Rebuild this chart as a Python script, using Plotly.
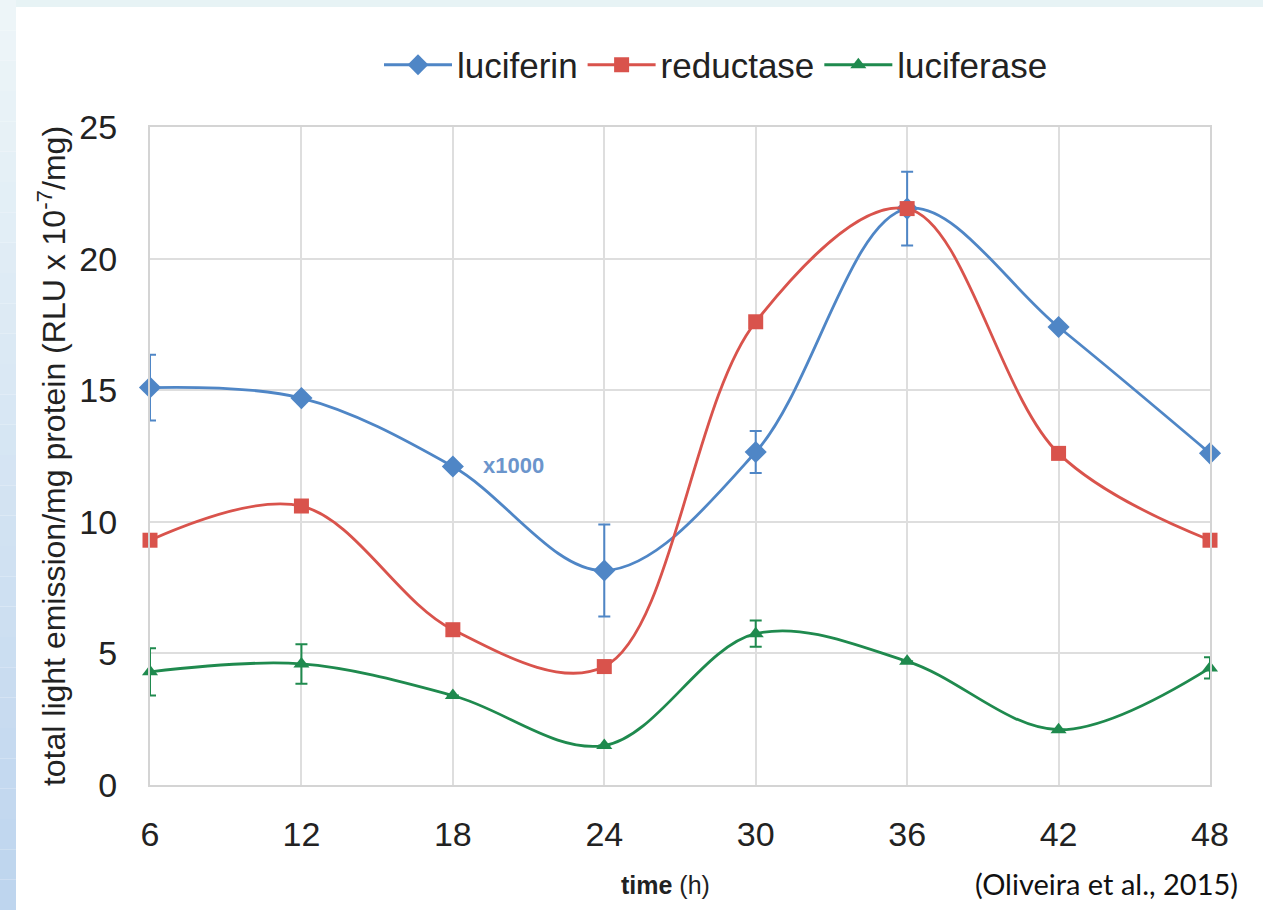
import plotly.graph_objects as go

time_h = [6, 12, 18, 24, 30, 36, 42, 48]
luciferin = [15.1, 14.7, 12.1, 8.15, 12.65, 21.9, 17.4, 12.6]
luciferin_err = [1.25, 0, 0, 1.75, 0.8, 1.4, 0, 0]
reductase = [9.3, 10.6, 5.9, 4.5, 17.6, 21.9, 12.6, 9.3]
luciferase = [4.3, 4.6, 3.4, 1.5, 5.75, 4.7, 2.1, 4.45]
luciferase_err = [0.9, 0.75, 0, 0, 0.5, 0, 0, 0.4]

x_ticks = [6, 12, 18, 24, 30, 36, 42, 48]
y_ticks = [0, 5, 10, 15, 20, 25]

BLUE = "#4f86c6"
RED = "#d9534c"
GREEN = "#1f8a4e"

fig = go.Figure()

fig.add_trace(go.Scatter(
    x=time_h, y=luciferin, name="luciferin", mode="lines+markers", cliponaxis=False,
    line=dict(color=BLUE, width=2.8, shape="spline", smoothing=1.0),
    marker=dict(symbol="diamond", size=17, color=BLUE),
    error_y=dict(type="data", array=luciferin_err, visible=True, color=BLUE, thickness=2, width=6),
))
fig.add_trace(go.Scatter(
    x=time_h, y=reductase, name="reductase", mode="lines+markers", cliponaxis=False,
    line=dict(color=RED, width=2.8, shape="spline", smoothing=1.0),
    marker=dict(symbol="square", size=15, color=RED),
))
fig.add_trace(go.Scatter(
    x=time_h, y=luciferase, name="luciferase", mode="lines+markers", cliponaxis=False,
    line=dict(color=GREEN, width=2.8, shape="spline", smoothing=1.0),
    marker=dict(symbol="triangle-up", size=14, color=GREEN),
    error_y=dict(type="data", array=luciferase_err, visible=True, color=GREEN, thickness=2, width=6),
))

# x1000 note
fig.add_annotation(x=20.4, y=12.15, text="<b>x1000</b>", showarrow=False,
                   font=dict(family="Liberation Sans, Arial", size=22, color="#6b95cc"),
                   xanchor="center", yanchor="middle")

W, H = 1060.0, 658.0
def px_x(px):
    return (px - 150) / W
def px_y(py):
    return (785 - py) / H

# x axis title
fig.add_annotation(xref="paper", yref="paper", x=px_x(665), y=px_y(885),
                   text="<b>time</b> (h)", showarrow=False,
                   font=dict(family="Liberation Sans, Arial", size=25, color="#222222"),
                   xanchor="center", yanchor="middle")

# citation
fig.add_annotation(xref="paper", yref="paper", x=px_x(1106), y=px_y(883),
                   text="(Oliveira et al., 2015)", showarrow=False,
                   font=dict(family="Lato, Open Sans, sans-serif", size=29, color="#111111"),
                   xanchor="center", yanchor="middle")

# background decoration: top band and left gradient stripe
shapes = []
shapes.append(dict(type="rect", xref="paper", yref="paper",
                   x0=px_x(0), x1=px_x(1263), y0=px_y(7), y1=px_y(0),
                   fillcolor="#e7f3f5", line=dict(width=0), layer="below"))
n = 30
top_c = (0xee, 0xf6, 0xf8)
bot_c = (0xbd, 0xd4, 0xee)
for i in range(n):
    t = (i + 0.5) / n
    c = tuple(int(round(top_c[k] + (bot_c[k] - top_c[k]) * t)) for k in range(3))
    y0p = 910 * i / n
    y1p = 910 * (i + 1) / n
    shapes.append(dict(type="rect", xref="paper", yref="paper",
                       x0=px_x(0), x1=px_x(16), y0=px_y(y1p), y1=px_y(y0p),
                       fillcolor="rgb(%d,%d,%d)" % c, line=dict(width=0), layer="below"))

fig.update_layout(
    width=1263, height=910,
    margin=dict(l=150, r=53, t=127, b=125),
    paper_bgcolor="white", plot_bgcolor="white",
    font=dict(family="Liberation Sans, Arial", color="#222222"),
    shapes=shapes,
    showlegend=True,
    legend=dict(orientation="h", x=px_x(716), y=px_y(65), xanchor="center", yanchor="middle",
                font=dict(size=35, color="#222222"), itemwidth=68,
                tracegroupgap=0, bgcolor="rgba(0,0,0,0)"),
    xaxis=dict(range=[6, 48], tickvals=x_ticks, ticktext=[str(v) for v in x_ticks],
               showgrid=True, gridcolor="#dedede", gridwidth=1.5,
               showline=True, mirror=True, linecolor="#d4d4d4", linewidth=2,
               zeroline=False, tickfont=dict(size=34, color="#222222"),
               ticks="", ticklabelstandoff=18, automargin=False),
    yaxis=dict(range=[0, 25], tickvals=y_ticks,
               showgrid=True, gridcolor="#dedede", gridwidth=1.5,
               showline=True, mirror=True, linecolor="#d4d4d4", linewidth=2,
               zeroline=False, tickfont=dict(size=34, color="#222222"),
               ticks="", ticklabelstandoff=24, automargin=False,
               title=dict(text="total light emission/mg protein (RLU x 10<sup>-7</sup>/mg)",
                          font=dict(size=32, color="#222222"), standoff=4)),
)

fig.write_html("out.html", config={"displayModeBar": False},
               post_script="document.body.style.margin='0';document.body.style.overflow='hidden';")
